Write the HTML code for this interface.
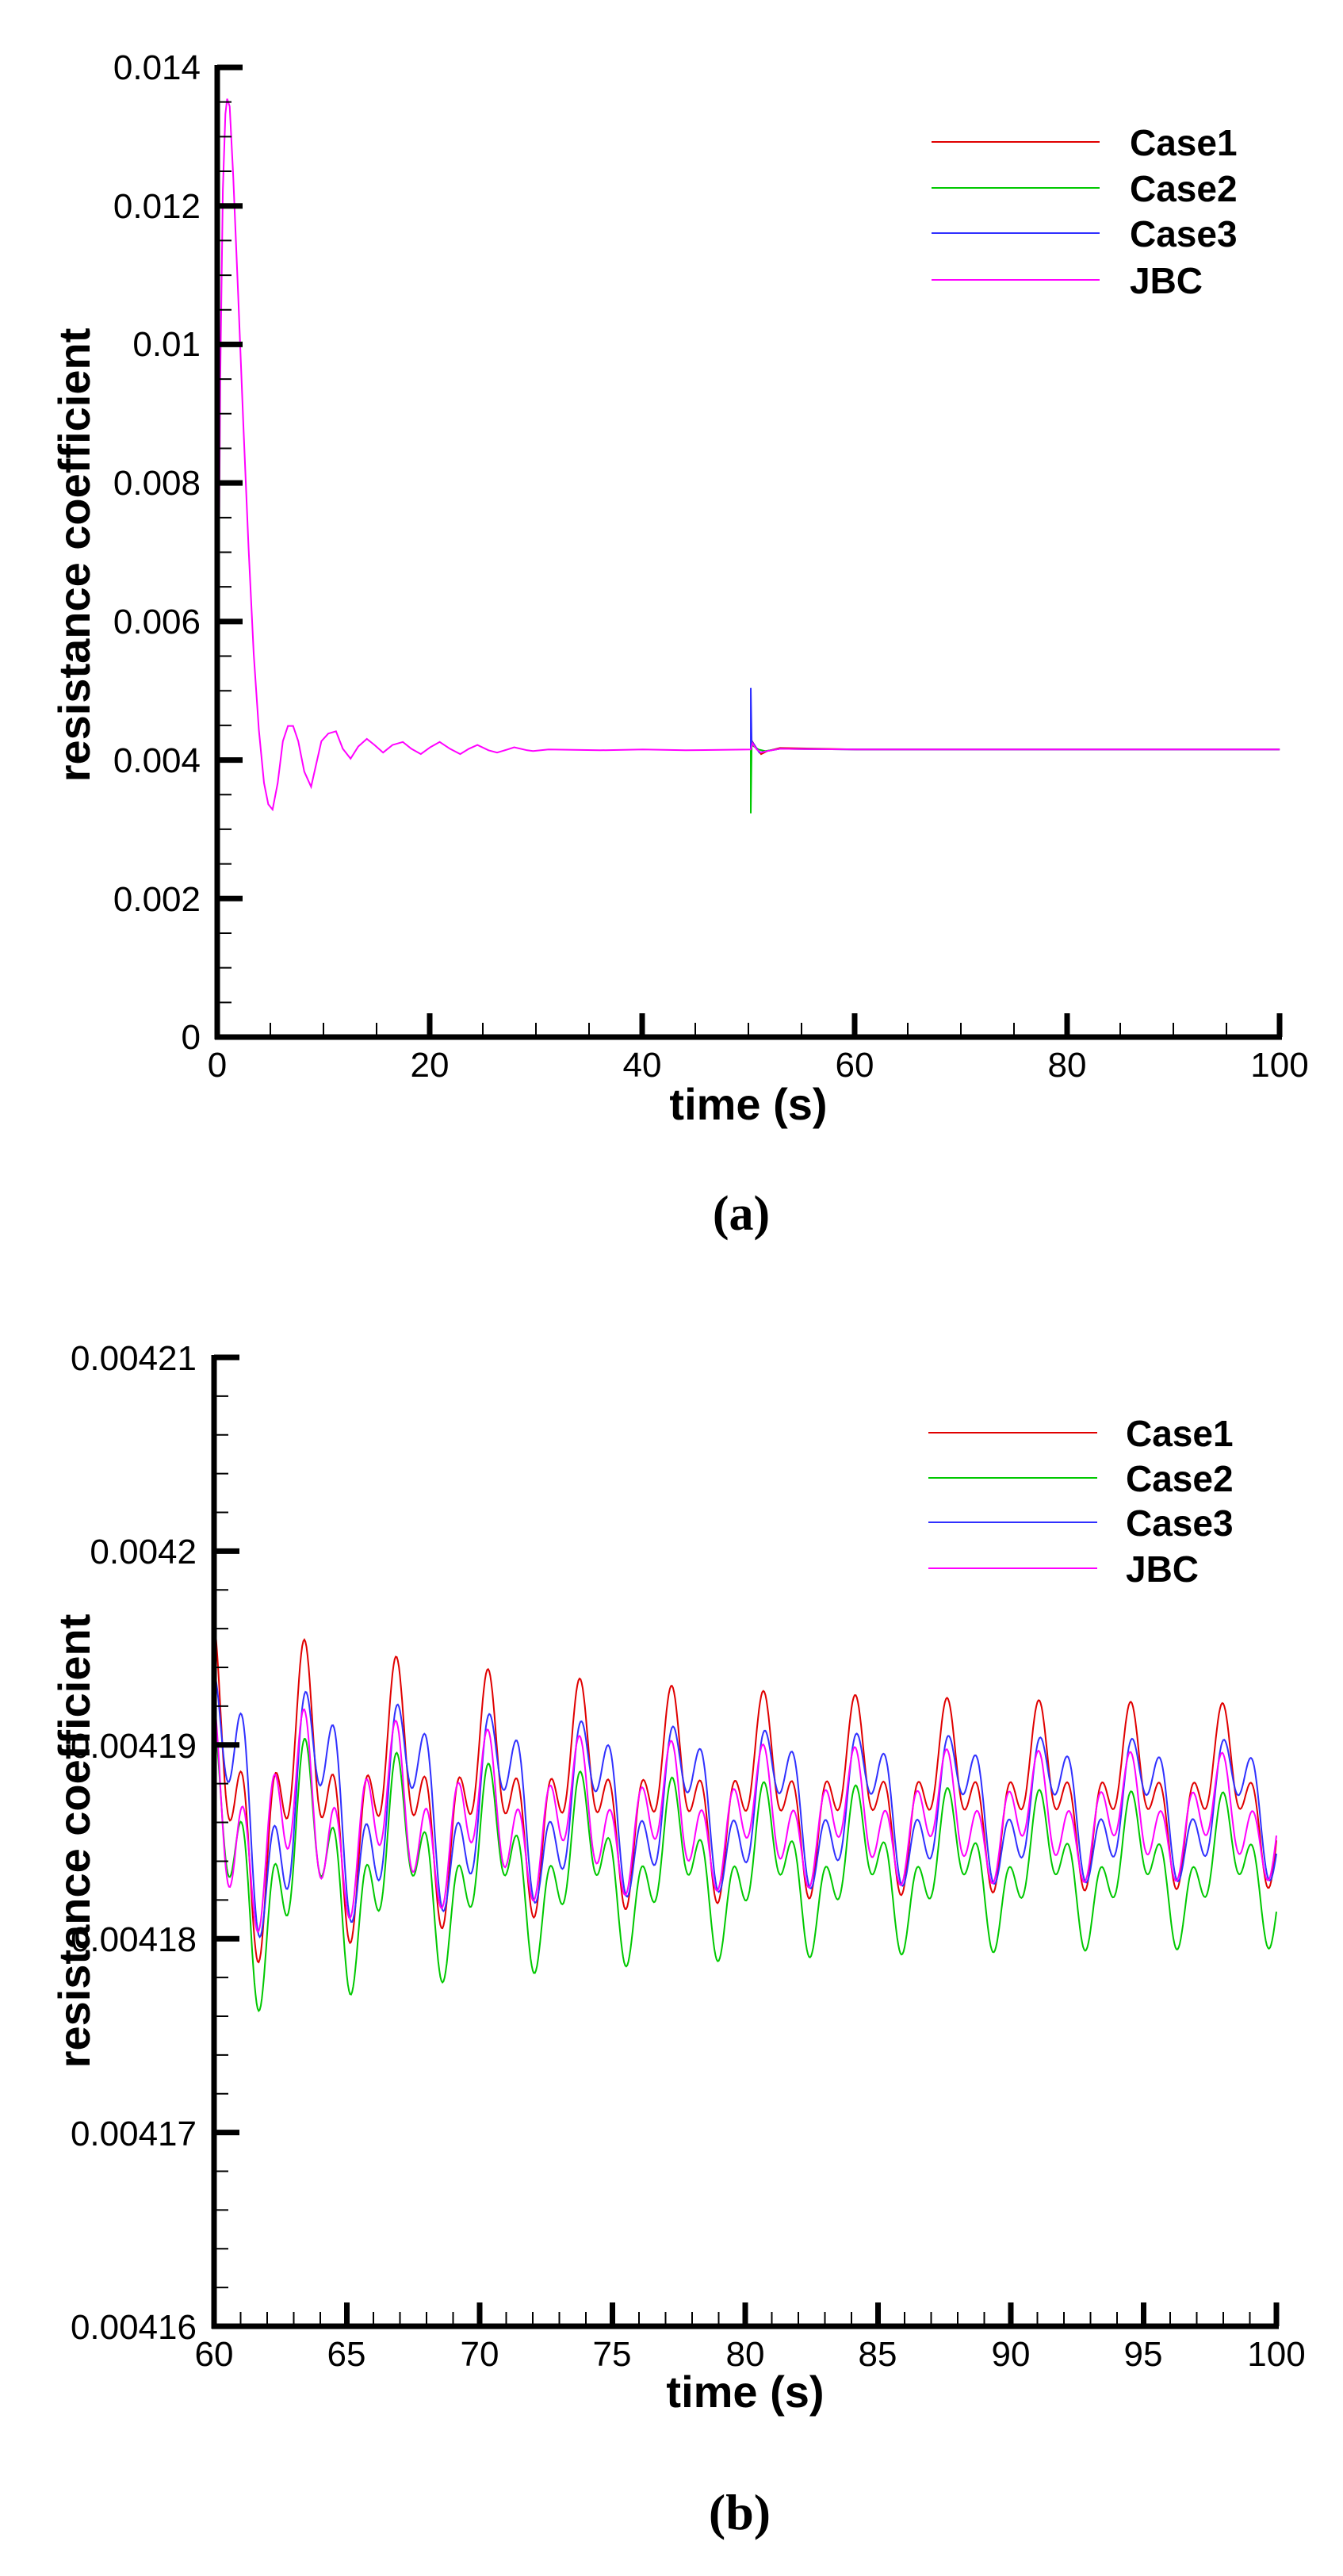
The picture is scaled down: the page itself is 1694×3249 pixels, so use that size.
<!DOCTYPE html>
<html><head><meta charset="utf-8"><style>
html,body{margin:0;padding:0;background:#fff;width:1694px;height:3249px;overflow:hidden}
svg{display:block}
text{font-family:"Liberation Sans",Arial,sans-serif}
</style></head><body>
<svg id="s" width="1694" height="3249" viewBox="0 0 1694 3249" xmlns="http://www.w3.org/2000/svg">
<g id="curves"></g>
<g id="axes" stroke="#000" fill="none"></g>
<g font-size="44" fill="#000">
<text x="253" y="100" text-anchor="end">0.014</text>
<text x="253" y="275" text-anchor="end">0.012</text>
<text x="253" y="449" text-anchor="end">0.01</text>
<text x="253" y="624" text-anchor="end">0.008</text>
<text x="253" y="799" text-anchor="end">0.006</text>
<text x="253" y="974" text-anchor="end">0.004</text>
<text x="253" y="1149" text-anchor="end">0.002</text>
<text x="253" y="1323" text-anchor="end">0</text>
<text x="274" y="1358" text-anchor="middle">0</text>
<text x="542" y="1358" text-anchor="middle">20</text>
<text x="810" y="1358" text-anchor="middle">40</text>
<text x="1078" y="1358" text-anchor="middle">60</text>
<text x="1346" y="1358" text-anchor="middle">80</text>
<text x="1614" y="1358" text-anchor="middle">100</text>
</g>
<g font-size="56" font-weight="bold" fill="#000">
<text x="944" y="1412" text-anchor="middle">time (s)</text>
<text transform="translate(113,700) rotate(-90)" text-anchor="middle">resistance coefficient</text>
</g>
<g font-size="46" font-weight="bold" fill="#000">
<text x="1425" y="196">Case1</text>
<text x="1425" y="254">Case2</text>
<text x="1425" y="311">Case3</text>
<text x="1425" y="370">JBC</text>
</g>
<g stroke-width="2">
<line x1="1175" y1="179" x2="1387" y2="179" stroke="#e00000"/>
<line x1="1175" y1="237" x2="1387" y2="237" stroke="#00c800"/>
<line x1="1175" y1="294" x2="1387" y2="294" stroke="#3030ff"/>
<line x1="1175" y1="353" x2="1387" y2="353" stroke="#ff00ff"/>
</g>
<text x="935" y="1551" text-anchor="middle" font-size="62" font-weight="bold" style="font-family:'Liberation Serif',serif">(a)</text>

<!-- chart b -->
<g font-size="44" fill="#000">
<text x="248" y="1728" text-anchor="end">0.00421</text>
<text x="248" y="1972" text-anchor="end">0.0042</text>
<text x="248" y="2217" text-anchor="end">0.00419</text>
<text x="248" y="2461" text-anchor="end">0.00418</text>
<text x="248" y="2706" text-anchor="end">0.00417</text>
<text x="248" y="2950" text-anchor="end">0.00416</text>
<text x="270" y="2984" text-anchor="middle">60</text>
<text x="437" y="2984" text-anchor="middle">65</text>
<text x="605" y="2984" text-anchor="middle">70</text>
<text x="772" y="2984" text-anchor="middle">75</text>
<text x="940" y="2984" text-anchor="middle">80</text>
<text x="1107" y="2984" text-anchor="middle">85</text>
<text x="1275" y="2984" text-anchor="middle">90</text>
<text x="1442" y="2984" text-anchor="middle">95</text>
<text x="1610" y="2984" text-anchor="middle">100</text>
</g>
<g font-size="56" font-weight="bold" fill="#000">
<text x="940" y="3036" text-anchor="middle">time (s)</text>
<text transform="translate(113,2322) rotate(-90)" text-anchor="middle">resistance coefficient</text>
</g>
<g font-size="46" font-weight="bold" fill="#000">
<text x="1420" y="1824">Case1</text>
<text x="1420" y="1881">Case2</text>
<text x="1420" y="1937">Case3</text>
<text x="1420" y="1995">JBC</text>
</g>
<g stroke-width="2">
<line x1="1171" y1="1807" x2="1384" y2="1807" stroke="#e00000"/>
<line x1="1171" y1="1864" x2="1384" y2="1864" stroke="#00c800"/>
<line x1="1171" y1="1920" x2="1384" y2="1920" stroke="#3030ff"/>
<line x1="1171" y1="1978" x2="1384" y2="1978" stroke="#ff00ff"/>
</g>
<text x="933" y="3190" text-anchor="middle" font-size="64" font-weight="bold" style="font-family:'Liberation Serif',serif">(b)</text>
</svg>
<script>
(function(){
var NS="http://www.w3.org/2000/svg";
var cur=document.getElementById("curves"), ax=document.getElementById("axes");
function el(p,tag,a){var e=document.createElementNS(NS,tag);for(var k in a)e.setAttribute(k,a[k]);p.appendChild(e);return e;}
function line(x1,y1,x2,y2,w){el(ax,"line",{x1:x1,y1:y1,x2:x2,y2:y2,"stroke-width":w});}
var L=274,B=1308,T=85,R=1614;
line(L,T-3,L,B+3,7);line(L-3,B,R+3,B,7);
for(var i=0;i<=7;i++){var y=B-i*(B-T)/7;line(L,y,L+32,y,7);}
for(var i=0;i<28;i++){if(i%4==0)continue;var y=B-i*(B-T)/28;line(L,y,L+18,y,2);}
for(var i=0;i<=5;i++){var x=L+i*(R-L)/5;line(x,B,x,B-30,7);}
for(var i=0;i<20;i++){if(i%4==0)continue;var x=L+i*(R-L)/20;line(x,B,x,B-18,2);}
L=270;B=2934;T=1712;R=1610;
line(L,T-3,L,B+3,7);line(L-3,B,R+3,B,7);
for(var i=0;i<=5;i++){var y=B-i*(B-T)/5;line(L,y,L+32,y,7);}
for(var i=0;i<25;i++){if(i%5==0)continue;var y=B-i*(B-T)/25;line(L,y,L+18,y,2);}
for(var i=0;i<=8;i++){var x=L+i*(R-L)/8;line(x,B,x,B-30,7);}
for(var i=0;i<40;i++){if(i%5==0)continue;var x=L+i*(R-L)/40;line(x,B,x,B-18,2);}

function conv(a){return a.map(function(p){return [p[0]/0.925,p[1]/1.043];});}
function poly(pts,col){el(cur,"polyline",{points:pts.map(function(p){return p[0].toFixed(1)+","+p[1].toFixed(1);}).join(" "),fill:"none",stroke:col,"stroke-width":2});}
var jbc=[[255,800],[257,500],[260,250],[263,150],[265,130],[268,140],[272,230],[278,390],[284,560],[290,720],[296,860],[302,960],[308,1030],[313,1058],[318,1065],[324,1030],[330,975],[336,955],[342,955],[348,975],[355,1015],[363,1035],[368,1010],[375,975],[383,965],[392,962],[400,985],[409,998],[418,982],[428,972],[437,980],[447,990],[458,980],[470,976],[480,985],[491,992],[502,983],[513,976],[525,985],[537,992],[547,985],[557,980],[570,987],[580,990],[592,986],[600,983],[615,987],[622,988],[640,986],[700,987],[750,986],[800,987],[876,986]];
var jbc2=[[876,986],[878,978],[883,986],[888,990],[895,988],[910,985],[1000,986],[1493,986]];
poly(conv([[876,986],[878,976],[883,985],[888,992],[895,988],[910,984],[1000,986],[1493,986]]),"#e00000");
poly(conv([[876,986],[876,1070],[877,980],[885,986],[893,988],[910,985],[1000,986],[1493,986]]),"#00c800");
poly(conv([[876,986],[876,905],[877,975],[880,980],[886,990],[895,988],[910,985],[1000,986],[1493,986]]),"#3030ff");
poly(conv(jbc.concat(jbc2)),"#ff00ff");

var S=[
 {c:"#e00000",M:2265,c0:0,a1:118,b1:0,a2:0,a3:79},
 {c:"#00c800",M:2360,c0:1,a1:93,b1:26,a2:0,a3:73},
 {c:"#3030ff",M:2283,c0:3.8,a1:74,b1:71,a2:-4.3,a3:72.5},
 {c:"#ff00ff",M:2291,c0:-9,a1:61.5,b1:-22,a2:8.5,a3:74}
];
S.forEach(function(s){
 var pts=[];
 for(var t=60;t<=100.001;t+=0.04){
  var x=2*Math.PI*(t-63.4)/3.457;
  var sc=0.57+0.43*Math.exp(-(t-63.4)/12);
  var v=s.c0+s.a1*Math.cos(x)+s.b1*Math.sin(x)+s.a2*Math.cos(2*x)+s.a3*Math.cos(3*x);
  pts.push([270+(t-60)*33.5,s.M-sc*v]);
 }
 poly(pts,s.c);
});
})();
</script>
</body></html>
